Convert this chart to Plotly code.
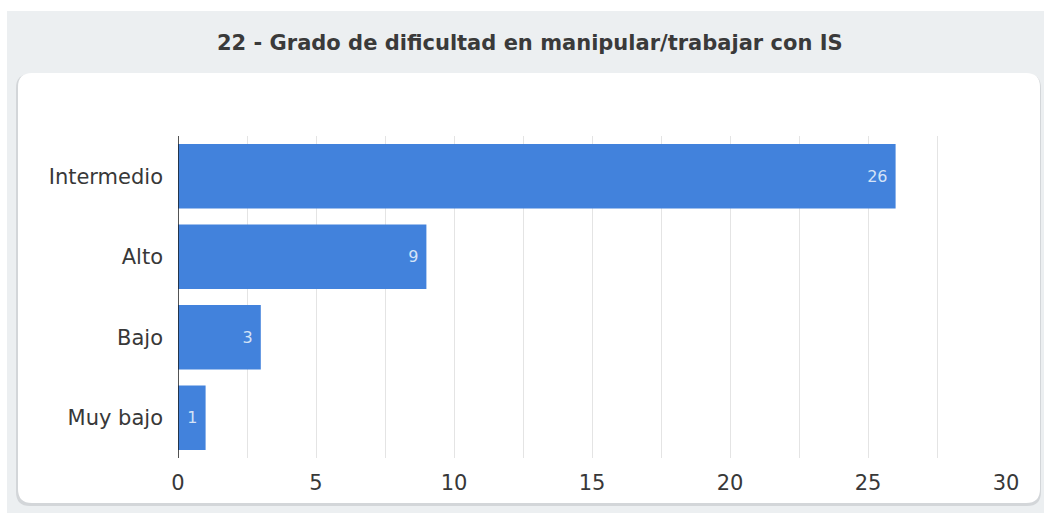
import plotly.graph_objects as go

# Survey responses: perceived difficulty working with IS
categories = ["Intermedio", "Alto", "Bajo", "Muy bajo"]
counts = [26, 9, 3, 1]
title_text = "22 - Grado de dificultad en manipular/trabajar con IS"

W, H = 1044, 513
L, R, T, B = 178, 38, 136, 55
PW, PH = W - L - R, H - T - B
FONT = "DejaVu Sans"


def px(x):
    return (x - L) / PW


def py(y):
    return (H - B - y) / PH


def rounded_rect(x0, y0, x1, y1, r):
    rx, ry = r / PW, r / PH
    X0, X1 = px(x0), px(x1)
    Y0, Y1 = py(y0), py(y1)  # Y0 top, Y1 bottom (paper units)
    return (
        f"M {X0 + rx},{Y0} L {X1 - rx},{Y0} Q {X1},{Y0} {X1},{Y0 - ry} "
        f"L {X1},{Y1 + ry} Q {X1},{Y1} {X1 - rx},{Y1} "
        f"L {X0 + rx},{Y1} Q {X0},{Y1} {X0},{Y1 + ry} "
        f"L {X0},{Y0 - ry} Q {X0},{Y0} {X0 + rx},{Y0} Z"
    )


fig = go.Figure(
    go.Bar(
        x=counts,
        y=categories,
        orientation="h",
        marker=dict(color="#4282dc", line=dict(width=0)),
        text=counts,
        texttemplate="%{x}&nbsp;",
        textposition="inside",
        insidetextanchor="end",
        textfont=dict(color="#d4e3f7", size=16, family=FONT),
        cliponaxis=False,
    )
)

shapes = [
    # grey panel behind the card
    dict(type="rect", xref="paper", yref="paper", layer="below",
         x0=px(7), x1=px(1044), y0=py(11), y1=py(513),
         fillcolor="#eceff1", line=dict(width=0)),
    # soft shadow of the card
    dict(type="path", xref="paper", yref="paper", layer="below",
         path=rounded_rect(16, 74, 1041, 506, 14),
         fillcolor="#d3d6d9", line=dict(width=0)),
    # white card
    dict(type="path", xref="paper", yref="paper", layer="below",
         path=rounded_rect(18, 73, 1040, 503, 14),
         fillcolor="#ffffff", line=dict(width=0)),
]

fig.update_layout(
    width=W,
    height=H,
    margin=dict(l=L, r=R, t=T, b=B),
    paper_bgcolor="#ffffff",
    plot_bgcolor="rgba(0,0,0,0)",
    showlegend=False,
    bargap=0.2,
    shapes=shapes,
    font=dict(family=FONT, color="#333333"),
    annotations=[
        dict(text=f"<b>{title_text}</b>", xref="paper", yref="paper",
             x=px(530), y=py(43), xanchor="center", yanchor="middle",
             showarrow=False, font=dict(size=21, color="#3a3a3a", family=FONT)),
    ],
    xaxis=dict(
        range=[0, 30],
        dtick=5,
        tick0=0,
        showgrid=True,
        gridcolor="#e4e4e4",
        gridwidth=1,
        minor=dict(dtick=2.5, showgrid=True, gridcolor="#e4e4e4", gridwidth=1),
        zeroline=False,
        showline=False,
        ticks="",
        ticklabelstandoff=10,
        tickfont=dict(size=21, color="#383838"),
        fixedrange=True,
    ),
    yaxis=dict(
        categoryorder="array",
        categoryarray=categories,
        autorange="reversed",
        showgrid=False,
        zeroline=False,
        showline=False,
        ticks="",
        ticklabelstandoff=14,
        tickfont=dict(size=21, color="#383838"),
        fixedrange=True,
    ),
)

# axis baseline at zero
fig.add_shape(type="line", xref="x", yref="paper", x0=0, x1=0, y0=0, y1=1,
              line=dict(color="#1a1a1a", width=1.5), layer="above")

fig.write_html("out.html")
